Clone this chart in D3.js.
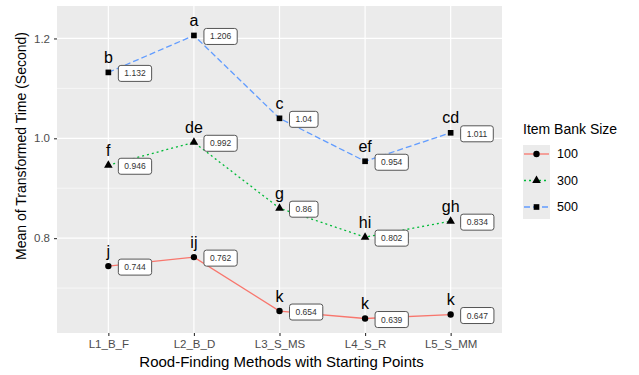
<!DOCTYPE html>
<html>
<head>
<meta charset="utf-8">
<script src="https://cdn.jsdelivr.net/npm/d3@7"></script>
<style>
  body { margin: 0; background: #fff; }
  svg { font-family: "Liberation Sans", Arial, sans-serif; }
</style>
</head>
<body>
<div id="chart"></div>
<script>
// data
var methods = ["L1_B_F", "L2_B_D", "L3_S_MS", "L4_S_R", "L5_S_MM"];
var bankSizes = ["100", "300", "500"];
var means100 = [0.744, 0.762, 0.654, 0.639, 0.647];
var means300 = [0.946, 0.992, 0.86, 0.802, 0.834];
var means500 = [1.132, 1.206, 1.04, 0.954, 1.011];
var letters100 = ["j", "ij", "k", "k", "k"];
var letters300 = ["f", "de", "g", "hi", "gh"];
var letters500 = ["b", "a", "c", "ef", "cd"];
var yTicks = [0.8, 1.0, 1.2];
var yMinor = [0.7, 0.9, 1.1];

var colors = ["#F8766D", "#00BA38", "#619CFF"];
var dashes = [null, "2,3", "6,3"];
var shapes = [d3.symbolCircle, d3.symbolTriangle, d3.symbolSquare];
var shapeSize = [32, 32, 32];

var series = [
  {size: bankSizes[0], vals: means100, letters: letters100},
  {size: bankSizes[1], vals: means300, letters: letters300},
  {size: bankSizes[2], vals: means500, letters: letters500}
];

var W = 639, H = 375;
var margin = {top: 6, right: 137, bottom: 42, left: 57};
var width = W - margin.left - margin.right;
var height = H - margin.top - margin.bottom;

var svg = d3.select("#chart").append("svg")
  .attr("width", W).attr("height", H);

var g = svg.append("g")
  .attr("transform", "translate(" + margin.left + "," + margin.top + ")");

// discrete x like ggplot (0.6 padding each side)
var x = d3.scalePoint().domain(methods).range([0, width]).padding(0.6);
var y = d3.scaleLinear().domain([0.61, 1.265]).range([height, 0]);

g.append("rect")
  .attr("width", width).attr("height", height)
  .attr("fill", "#EBEBEB");

// grid
g.selectAll(".minor").data(yMinor).enter().append("line")
  .attr("x1", 0).attr("x2", width)
  .attr("y1", function(d){ return y(d); })
  .attr("y2", function(d){ return y(d); })
  .attr("stroke", "#fff").attr("stroke-width", 0.6);

g.selectAll(".major").data(yTicks).enter().append("line")
  .attr("x1", 0).attr("x2", width)
  .attr("y1", function(d){ return y(d); })
  .attr("y2", function(d){ return y(d); })
  .attr("stroke", "#fff").attr("stroke-width", 1.2);

g.selectAll(".vmajor").data(methods).enter().append("line")
  .attr("x1", function(d){ return x(d); })
  .attr("x2", function(d){ return x(d); })
  .attr("y1", 0).attr("y2", height)
  .attr("stroke", "#fff").attr("stroke-width", 1.2);

// axes
var xAxis = g.append("g")
  .attr("transform", "translate(0," + height + ")")
  .call(d3.axisBottom(x).tickSize(3).tickPadding(4));
var yAxis = g.append("g")
  .call(d3.axisLeft(y).tickValues(yTicks).tickSize(3).tickPadding(4)
    .tickFormat(d3.format(".1f")));

[xAxis, yAxis].forEach(function(a){
  a.select(".domain").remove();
  a.selectAll(".tick line").attr("stroke", "#333").attr("stroke-width", 1.1);
  a.selectAll(".tick text").attr("fill", "#4D4D4D")
    .style("font-size", "11.5px").style("font-family", "Liberation Sans, Arial, sans-serif");
});

svg.append("text")
  .attr("x", margin.left + width / 2 + 2).attr("y", 367)
  .attr("text-anchor", "middle")
  .style("font-size", "15px")
  .text("Rood-Finding Methods with Starting Points");

svg.append("text")
  .attr("transform", "translate(26,146) rotate(-90)")
  .attr("text-anchor", "middle")
  .style("font-size", "14px")
  .text("Mean of Transformed Time (Second)");

// lines
var line = d3.line()
  .x(function(d, i){ return x(methods[i]); })
  .y(function(d){ return y(d); });

series.forEach(function(s, k){
  g.append("path")
    .attr("d", line(s.vals))
    .attr("fill", "none")
    .attr("stroke", colors[k])
    .attr("stroke-width", 1.3)
    .attr("stroke-dasharray", dashes[k]);
});

// points
series.forEach(function(s, k){
  g.selectAll(".pt" + k).data(s.vals).enter().append("path")
    .attr("transform", function(d, i){
      return "translate(" + x(methods[i]) + "," + y(d) + ")";
    })
    .attr("d", d3.symbol().type(shapes[k]).size(shapeSize[k]))
    .attr("fill", "#000");
});

// letters above points
series.forEach(function(s, k){
  g.selectAll(".let" + k).data(s.vals).enter().append("text")
    .attr("x", function(d, i){ return x(methods[i]); })
    .attr("y", function(d){ return y(d + 0.03); })
    .attr("dy", "0.35em")
    .attr("text-anchor", "middle")
    .style("font-size", "16px")
    .text(function(d, i){ return s.letters[i]; });
});

// value labels
series.forEach(function(s, k){
  var lab = g.selectAll(".lab" + k).data(s.vals).enter().append("g")
    .attr("transform", function(d, i){
      return "translate(" + (x(methods[i]) + 10) + "," + (y(d) + 1) + ")";
    });
  var rects = lab.append("rect");
  var txt = lab.append("text")
    .attr("x", 6).attr("dy", "0.35em")
    .style("font-size", "8.5px")
    .attr("fill", "#333")
    .text(function(d){ return d3.format("")(d); });
  txt.each(function(){
    var w = this.getComputedTextLength();
    d3.select(this.parentNode).select("rect")
      .attr("x", 0).attr("y", -8)
      .attr("width", w + 12).attr("height", 16)
      .attr("rx", 2.5)
      .attr("fill", "#fff")
      .attr("stroke", "#555")
      .attr("stroke-width", 1);
  });
});

// legend
var leg = svg.append("g").attr("transform", "translate(523,0)");
leg.append("text")
  .attr("x", 0).attr("y", 134)
  .style("font-size", "14px")
  .text("Item Bank Size");

leg.append("rect")
  .attr("x", 0).attr("y", 145).attr("width", 27).attr("height", 74)
  .attr("fill", "#EBEBEB");

series.forEach(function(s, k){
  var cy = 154 + k * 26.5;
  leg.append("line")
    .attr("x1", 1).attr("x2", 26)
    .attr("y1", cy).attr("y2", cy)
    .attr("stroke", colors[k]).attr("stroke-width", 1.3)
    .attr("stroke-dasharray", dashes[k]);
  leg.append("path")
    .attr("transform", "translate(13.5," + cy + ")")
    .attr("d", d3.symbol().type(shapes[k]).size(shapeSize[k]))
    .attr("fill", "#000");
  leg.append("text")
    .attr("x", 34).attr("y", cy).attr("dy", "0.35em")
    .style("font-size", "12.5px")
    .text(s.size);
});
</script>
</body>
</html>
